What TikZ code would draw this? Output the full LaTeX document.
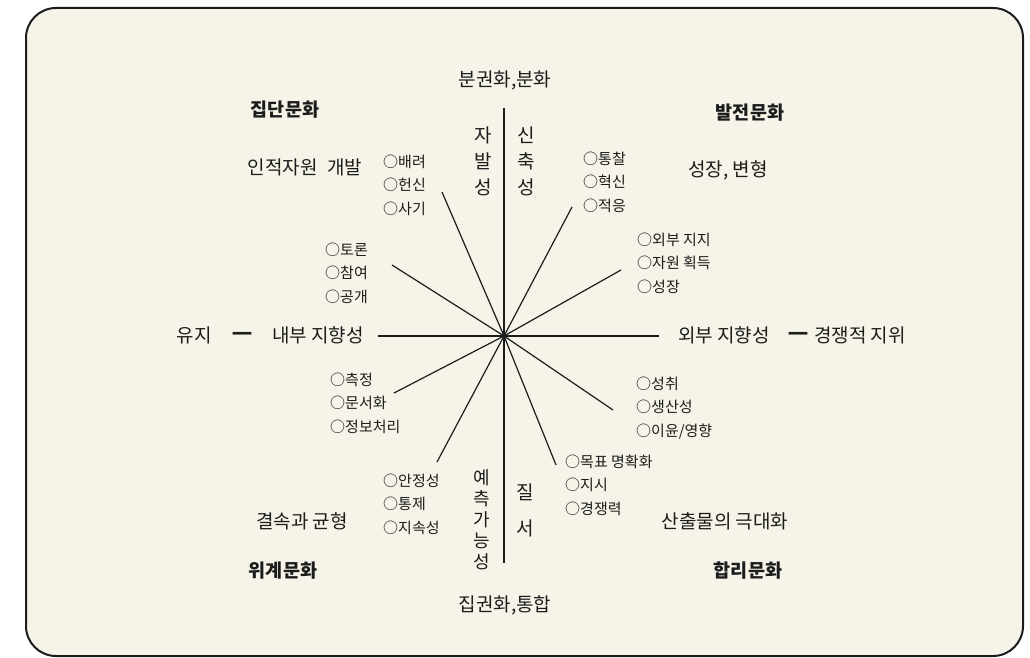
\documentclass[tikz,border=0pt]{standalone}
\usepackage{fontspec}
\setmainfont{Noto Sans CJK KR}
\newfontfamily\dashfont{DejaVu Sans}
\definecolor{paper}{HTML}{F6F4E8}
\definecolor{ink}{HTML}{1C1C1C}
\begin{document}
\begin{tikzpicture}[x=1pt,y=-1pt,
  title/.style={font=\fontsize{18.5}{20}\selectfont\bfseries, text=ink, inner sep=0pt},
  lab/.style={font=\fontsize{19}{21}\selectfont, text=ink, inner sep=0pt},
  dashlab/.style={font=\dashfont\bfseries\fontsize{21}{21}\selectfont, text=ink, inner sep=0pt},
  items/.style={font=\fontsize{15}{23.5}\selectfont, align=left, text=ink, inner sep=0pt, anchor=west},
  vert/.style={font=\fontsize{19}{26}\selectfont, align=center, text=ink, inner sep=0pt},
  spoke/.style={line width=1.2pt, draw=ink},
  axisline/.style={line width=2.4pt, draw=ink},
  frame/.style={line width=2pt, draw=ink, fill=paper, rounded corners=30pt}]
\useasboundingbox (0,0) rectangle (1030,658);
\fill[white] (0,0) rectangle (1030,658);
\draw[frame] (26,8) rectangle (1023,656);

% axes
\coordinate (c) at (504,336);
\coordinate (top) at (504,108);
\coordinate (bot) at (504,563);
\coordinate (lft) at (378,336);
\coordinate (rgt) at (659,336);
\draw[axisline] (top) -- (bot);
\draw[axisline] (lft) -- (rgt);

% spokes
\coordinate (s1) at (442,192);
\coordinate (s2) at (392,265);
\coordinate (s3) at (572,207);
\coordinate (s4) at (621,270);
\coordinate (s5) at (394,393);
\coordinate (s6) at (437,462);
\coordinate (s7) at (556,465);
\coordinate (s8) at (613,410);
\foreach \s in {s1,s2,s3,s4,s5,s6,s7,s8} \draw[spoke] (c) -- (\s);

% axis end labels
\node[lab] (topl) at (505,80) {분권화,분화};
\node[lab] (botl) at (505,605) {집권화,통합};
\node[lab] (yuji) at (194,335) {유지};
\node[dashlab] (dashl) at (242,336) {—};
\node[lab] (naebu) at (318,335) {내부 지향성};
\node[lab] (oebu) at (724,335) {외부 지향성};
\node[dashlab] (dashr) at (798,336) {—};
\node[lab] (gyeong) at (860,335) {경쟁적 지위};

% culture titles
\node[title] (t1) at (285,110) {집단문화};
\node[title] (t2) at (750,113) {발전문화};
\node[title] (t3) at (283,571) {위계문화};
\node[title] (t4) at (748,571) {합리문화};

% quadrant goals
\node[lab] (g1) at (305,167) {인적자원\hspace{0.5em}개발};
\node[lab] (g2) at (728,170) {성장, 변형};
\node[lab] (g3) at (302,521) {결속과 균형};
\node[lab] (g4) at (725,521) {산출물의 극대화};

% vertical labels
\node[vert] (v1) at (483,161) {자\\발\\성};
\node[vert] (v2) at (526,161) {신\\축\\성};
\node[vert, font=\fontsize{18}{21}\selectfont] (v3) at (482,520) {예\\측\\가\\능\\성};
\node[vert, font=\fontsize{19}{36}\selectfont] (v4) at (525,510) {질\\서};

% item lists
\node[items] (i1) at (383,185) {○배려\\○헌신\\○사기};
\node[items] (i2) at (325,273) {○토론\\○참여\\○공개};
\node[items] (i3) at (330,403) {○측정\\○문서화\\○정보처리};
\node[items] (i4) at (383,504) {○안정성\\○통제\\○지속성};
\node[items] (i5) at (583,182) {○통찰\\○혁신\\○적응};
\node[items] (i6) at (637,263) {○외부 지지\\○자원 획득\\○성장};
\node[items] (i7) at (636,408) {○성취\\○생산성\\○이윤/영향};
\node[items] (i8) at (565,485) {○목표 명확화\\○지시\\○경쟁력};
\end{tikzpicture}
\end{document}
